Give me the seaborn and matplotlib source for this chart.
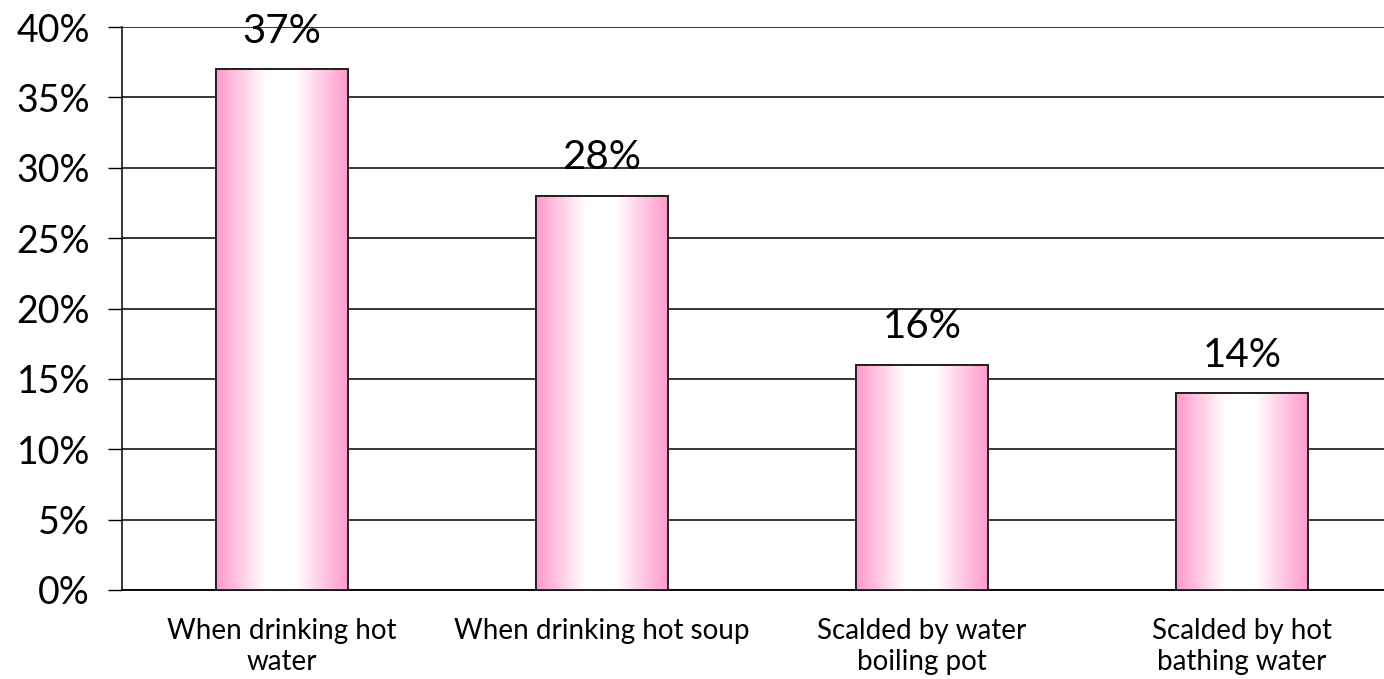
import numpy as np
import pandas as pd
import matplotlib
matplotlib.use("Agg")
import matplotlib.pyplot as plt
import seaborn as sns
from matplotlib.colors import LinearSegmentedColormap
from matplotlib.ticker import FixedLocator, PercentFormatter

# data
categories = ["When drinking hot\nwater", "When drinking hot soup",
              "Scalded by water\nboiling pot", "Scalded by hot\nbathing water"]
shares = [37, 28, 16, 14]
value_labels = ["37%", "28%", "16%", "14%"]

sns.set_style("white")
plt.rcParams["font.family"] = ["Lato", "DejaVu Sans"]
plt.rcParams["text.color"] = "black"
plt.rcParams["xtick.color"] = "black"
plt.rcParams["ytick.color"] = "black"

df = pd.DataFrame({"cause": categories, "share": shares})

fig = plt.figure(figsize=(13.84, 6.79), dpi=100)
# plot area runs a bit past the right edge, like the original
ax = fig.add_axes([122 / 1384, 89 / 679, 1280 / 1384, 563 / 679])

sns.barplot(data=df, x="cause", y="share", ax=ax, width=0.41,
            color="#ff99cc", edgecolor="black", linewidth=1.3, zorder=3)

# pink -> white -> pink horizontal gradient inside each bar
cmap = LinearSegmentedColormap.from_list(
    "pinkfade", [(0, "#ff99cc"), (0.38, "#ffffff"), (0.6, "#ffffff"), (1, "#ff99cc")])
grad = np.linspace(0, 1, 256).reshape(1, -1)
for p in ax.patches:
    x0, y0 = p.get_x(), p.get_y()
    w, h = p.get_width(), p.get_height()
    im = ax.imshow(grad, cmap=cmap, aspect="auto", extent=[x0, x0 + w, y0, y0 + h],
                   zorder=3.5, interpolation="bilinear")
    im.set_clip_path(p)
    ax.add_patch(plt.Rectangle((x0, y0), w, h, fill=False, edgecolor="#222222",
                               linewidth=1.4, zorder=4))

for i, (v, lab) in enumerate(zip(shares, value_labels)):
    ax.annotate(lab, (i, v), xytext=(0, 14), textcoords="offset points",
                ha="center", va="bottom", fontsize=29, color="black", zorder=5)

ax.set_xlim(-0.5, 3.5)
ax.set_ylim(0, 40)
ax.yaxis.set_major_locator(FixedLocator(range(0, 41, 5)))
ax.yaxis.set_major_formatter(PercentFormatter(decimals=0))
ax.grid(axis="y", color="black", linewidth=1.1, zorder=1)
ax.set_axisbelow(True)

ax.xaxis.set_minor_locator(FixedLocator([-0.5, 0.5, 1.5, 2.5, 3.5]))
ax.tick_params(axis="x", which="major", length=0, labelsize=20, pad=20)
ax.tick_params(axis="x", which="minor", length=9, width=1, color="black", direction="out")
ax.tick_params(axis="y", length=10, width=1, color="black", labelsize=27, pad=13, left=True)
for lab in ax.get_xticklabels():
    lab.set_linespacing(1.25)

ax.set_xlabel("")
ax.set_ylabel("")
for side in ["top", "right"]:
    ax.spines[side].set_visible(False)
ax.spines["left"].set_color("black")
ax.spines["bottom"].set_color("black")
ax.spines["left"].set_linewidth(1.1)
ax.spines["bottom"].set_linewidth(1.3)

fig.savefig("out.png", dpi=100)
